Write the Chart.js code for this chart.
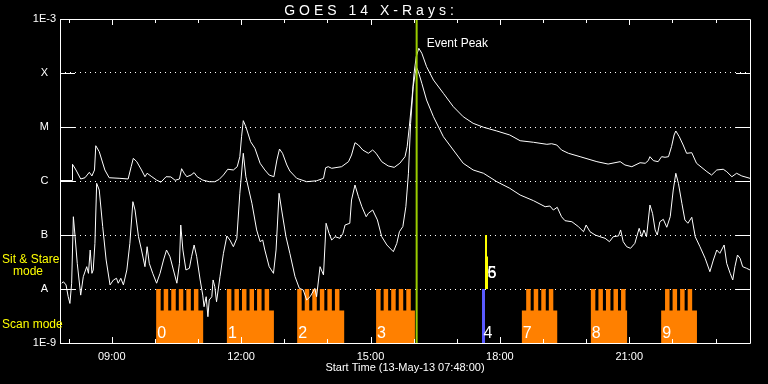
<!DOCTYPE html>
<html>
<head>
<meta charset="utf-8">
<script src="https://cdn.jsdelivr.net/npm/chart.js@4.4.1/dist/chart.umd.min.js"></script>
<style>
    html, body { margin: 0; padding: 0; background: #000; }
</style>
</head>
<body>
<canvas id="goes-chart" width="768" height="384"></canvas>
<script>
// Time axis: decimal hours UT on 13-May-13, window 07:48 -> 23:48
const xMin = 7.8;
const xMax = 23.8;
const hourTicks = [8, 9, 10, 11, 12, 13, 14, 15, 16, 17, 18, 19, 20, 21, 22, 23];

// Flux axis (W/m^2), decade ticks with GOES class letters
const yTickValues = [1e-9, 1e-8, 1e-7, 1e-6, 1e-5, 1e-4, 1e-3];
const yTickLabels = ['1E-9', 'A', 'B', 'C', 'M', 'X', '1E-3'];

// GOES 14 long channel (1-8 A)
const upperTime = [
    7.81, 8.08, 8.09, 8.17, 8.28, 8.38, 8.48, 8.54, 8.60, 8.63,
    8.71, 8.84, 8.94, 9.19, 9.38, 9.45, 9.50, 9.58, 9.69, 9.77,
    9.82, 9.93, 10.04, 10.14, 10.26, 10.37, 10.47, 10.57, 10.62, 10.68,
    10.74, 10.84, 10.91, 10.98, 11.11, 11.26, 11.39, 11.49, 11.59, 11.69,
    11.82, 11.91, 11.97, 12.01, 12.05, 12.11, 12.22, 12.32, 12.44, 12.55,
    12.65, 12.76, 12.83, 12.89, 12.96, 13.06, 13.13, 13.29, 13.52, 13.75,
    13.91, 13.96, 14.02, 14.10, 14.33, 14.49, 14.56, 14.64, 14.72, 14.82,
    14.95, 15.05, 15.13, 15.26, 15.41, 15.55, 15.68, 15.80, 15.85, 15.90,
    15.96, 16.01, 16.06, 16.12, 16.19, 16.30, 16.46, 16.69, 16.92, 17.15,
    17.38, 17.62, 17.93, 18.23, 18.47, 18.78, 19.09, 19.20, 19.32, 19.43,
    19.59, 19.86, 20.25, 20.51, 20.79, 20.90, 21.06, 21.25, 21.37, 21.44,
    21.48, 21.56, 21.67, 21.75, 21.83, 21.91, 21.98, 22.04, 22.08, 22.16,
    22.25, 22.33, 22.45, 22.56, 22.80, 22.91, 23.03, 23.18, 23.26, 23.38,
    23.49, 23.61, 23.80
];
const upperFlux = [
    1.02e-6, 1.02e-6, 2.04e-6, 1.6e-6, 1.09e-6, 1.15e-6, 1.45e-6, 1.24e-6, 1.6e-6, 4.5e-6,
    3.49e-6, 1.6e-6, 1.15e-6, 1.12e-6, 1.09e-6, 1.84e-6, 2.63e-6, 2.28e-6, 1.6e-6, 1.2e-6,
    1.39e-6, 1.2e-6, 1.04e-6, 0.95e-6, 1.2e-6, 1.19e-6, 1.03e-6, 1.09e-6, 1.69e-6, 1.39e-6,
    1.2e-6, 1.29e-6, 1.43e-6, 1.2e-6, 1.04e-6, 0.97e-6, 0.97e-6, 1.07e-6, 1.29e-6, 1.65e-6,
    1.6e-6, 1.84e-6, 2.82e-6, 6.6e-6, 1.31e-5, 1.01e-5, 5.34e-6, 4.03e-6, 2.13e-6, 1.6e-6,
    1.29e-6, 1.2e-6, 2.45e-6, 3.91e-6, 3.26e-6, 1.98e-6, 1.53e-6, 1.12e-6, 0.97e-6, 1.01e-6,
    1.12e-6, 1.76e-6, 1.84e-6, 1.72e-6, 1.84e-6, 2.28e-6, 3.03e-6, 5.12e-6, 4.64e-6, 3.75e-6,
    3.26e-6, 3.75e-6, 3.26e-6, 2.28e-6, 1.9e-6, 1.79e-6, 2.13e-6, 2.82e-6, 4.32e-6, 1.01e-5,
    3.16e-5, 0.99e-4, 2.0e-4, 2.87e-4, 2.32e-4, 1.31e-4, 7.41e-5, 4.21e-5, 2.38e-5, 1.55e-5,
    1.17e-5, 0.99e-5, 8.43e-6, 7.11e-6, 5.57e-6, 5.21e-6, 4.78e-6, 4.9e-6, 4.64e-6, 3.75e-6,
    3.26e-6, 2.82e-6, 2.28e-6, 2.06e-6, 2.28e-6, 1.98e-6, 1.84e-6, 2.18e-6, 2.13e-6, 2.38e-6,
    2.82e-6, 2.38e-6, 2.28e-6, 2.82e-6, 2.75e-6, 2.82e-6, 4.32e-6, 7.11e-6, 8.43e-6, 6.61e-6,
    4.64e-6, 3.26e-6, 3.34e-6, 2.13e-6, 1.49e-6, 1.29e-6, 1.6e-6, 1.65e-6, 1.49e-6, 1.2e-6,
    1.39e-6, 1.24e-6, 1.12e-6
];

// GOES 14 short channel (0.5-4 A)
const lowerTime = [
    7.84, 7.88, 7.94, 7.99, 8.03, 8.07, 8.11, 8.15, 8.20, 8.28,
    8.34, 8.42, 8.46, 8.50, 8.54, 8.57, 8.61, 8.65, 8.71, 8.79,
    8.87, 8.96, 9.04, 9.11, 9.15, 9.21, 9.27, 9.35, 9.42, 9.49,
    9.54, 9.62, 9.69, 9.77, 9.82, 9.87, 9.95, 10.04, 10.12, 10.20,
    10.27, 10.35, 10.43, 10.51, 10.57, 10.60, 10.65, 10.72, 10.80, 10.85,
    10.91, 10.97, 11.05, 11.11, 11.14, 11.19, 11.23, 11.26, 11.32, 11.35,
    11.39, 11.43, 11.51, 11.59, 11.67, 11.74, 11.82, 11.90, 11.97, 12.05,
    12.11, 12.25, 12.36, 12.44, 12.50, 12.55, 12.65, 12.75, 12.81, 12.88,
    12.94, 13.04, 13.13, 13.25, 13.35, 13.44, 13.52, 13.60, 13.71, 13.75,
    13.83, 13.91, 13.97, 14.04, 14.10, 14.18, 14.29, 14.36, 14.41, 14.52,
    14.56, 14.64, 14.72, 14.80, 14.90, 14.95, 15.05, 15.16, 15.26, 15.38,
    15.53, 15.61, 15.67, 15.75, 15.82, 15.88, 15.93, 15.99, 16.06, 16.11,
    16.19, 16.30, 16.46, 16.69, 16.92, 17.15, 17.38, 17.62, 17.93, 18.23,
    18.47, 18.78, 19.05, 19.16, 19.24, 19.33, 19.43, 19.51, 19.67, 19.82,
    19.94, 20.00, 20.09, 20.21, 20.32, 20.44, 20.54, 20.63, 20.75, 20.80,
    20.86, 20.94, 21.03, 21.13, 21.23, 21.29, 21.34, 21.40, 21.48, 21.54,
    21.60, 21.65, 21.71, 21.79, 21.87, 21.95, 22.02, 22.08, 22.14, 22.22,
    22.29, 22.36, 22.45, 22.53, 22.64, 22.76, 22.87, 22.95, 23.03, 23.10,
    23.20, 23.26, 23.34, 23.40, 23.45, 23.51, 23.57, 23.63, 23.72, 23.80
];
const lowerFlux = [
    1.28e-8, 1.36e-8, 1.19e-8, 7.2e-9, 5.4e-9, 1.28e-8, 2.18e-7, 9.3e-8, 2.99e-8, 7.7e-9,
    1.69e-8, 2.59e-8, 1.95e-8, 5.27e-8, 1.95e-8, 2.25e-8, 7.0e-8, 9.06e-7, 6.81e-7, 1.43e-7,
    3.44e-8, 1.19e-8, 1.47e-8, 1.58e-8, 1.28e-8, 1.58e-8, 1.19e-8, 2.25e-8, 7.0e-8, 4.14e-7,
    2.9e-7, 9.3e-8, 5.27e-8, 2.59e-8, 6.07e-8, 2.99e-8, 1.95e-8, 1.28e-8, 1.95e-8, 3.44e-8,
    5.27e-8, 3.96e-8, 2.25e-8, 1.28e-8, 2.99e-8, 1.53e-7, 5.27e-8, 2.25e-8, 2.42e-8, 3.96e-8,
    6.53e-8, 3.96e-8, 1.47e-8, 7.7e-9, 4.7e-9, 7.2e-9, 3.07e-9, 6.25e-9, 7.2e-9, 1.47e-8,
    1.1e-8, 5.8e-9, 1.69e-8, 4.58e-8, 9.58e-8, 8.07e-8, 6.07e-8, 8.69e-8, 5.92e-7, 3.26e-6,
    1.2e-6, 3.86e-7, 1.24e-7, 7.52e-8, 8.07e-8, 5.27e-8, 2.59e-8, 1.95e-8, 5.27e-8, 5.92e-7,
    2.9e-7, 9.3e-8, 4.58e-8, 1.69e-8, 1.03e-8, 9.6e-9, 6.25e-9, 7.2e-9, 1.03e-8, 7.2e-9,
    2.59e-8, 1.82e-8, 1.65e-7, 1.07e-7, 8.07e-8, 9.3e-8, 8.69e-8, 1.07e-7, 1.53e-7, 1.65e-7,
    4.45e-7, 8.43e-7, 5.12e-7, 3.34e-7, 2.18e-7, 2.52e-7, 2.9e-7, 1.9e-7, 9.3e-8, 6.53e-8,
    4.91e-8, 7.0e-8, 1.15e-7, 1.43e-7, 3.34e-7, 1.39e-6, 1.17e-5, 5.57e-5, 1.31e-4, 1.06e-4,
    6.44e-5, 3.16e-5, 1.55e-5, 6.61e-6, 3.75e-6, 2.13e-6, 1.6e-6, 1.39e-6, 9.7e-7, 7.33e-7,
    5.5e-7, 4.32e-7, 3.34e-7, 3.44e-7, 2.9e-7, 3.26e-7, 2.18e-7, 1.84e-7, 1.76e-7, 1.43e-7,
    1.15e-7, 1.53e-7, 1.15e-7, 1.0e-7, 9.3e-8, 8.69e-8, 7.52e-8, 9.3e-8, 9.6e-8, 1.24e-7,
    7.52e-8, 6.07e-8, 5.67e-8, 7.0e-8, 1.33e-7, 9.3e-8, 1.24e-7, 9.3e-8, 3.59e-7, 2.52e-7,
    1.24e-7, 1.0e-7, 1.76e-7, 1.95e-7, 1.39e-7, 2.18e-7, 6.81e-7, 1.39e-6, 9.06e-7, 3.86e-7,
    1.9e-7, 1.65e-7, 2.13e-7, 9.3e-8, 6.07e-8, 3.7e-8, 2.09e-8, 3.44e-8, 5.27e-8, 4.58e-8,
    6.53e-8, 2.99e-8, 1.95e-8, 1.47e-8, 2.59e-8, 4.26e-8, 3.7e-8, 2.59e-8, 2.42e-8, 2.25e-8
];

// Event peak time
const eventPeakTime = 16.07;

// Scan mode blocks (hours UT): block span, first raster start and raster count
const scanStart = [10.03, 11.67, 13.30, 15.13, 18.51, 20.11, 21.74];
const scanEnd = [11.12, 12.76, 14.39, 16.03, 19.33, 20.95, 22.57];
const toothStart = [10.03, 11.67, 13.30, 15.13, 18.61, 20.11, 21.83];
const toothCount = [6, 6, 6, 5, 4, 5, 4];
const scanLabels = ['0', '1', '2', '3', '7', '8', '9'];
const toothPeriod = 0.175;
const toothWidth = 0.104;
const scanBase = 4e-9;
const scanTop = 1e-8;

// Sit & stare pointings
const stareScanTime = 17.62;   // label 4
const stareTime = 17.69;       // labels 5 and 6
const stareTopFlux = 1e-7;
const stareMidFlux = 4e-8;

const titleText = 'GOES 14 X-Rays:';
const startLabel = 'Start Time (13-May-13 07:48:00)';

Chart.defaults.font.family = '"Liberation Sans", Arial, sans-serif';
Chart.defaults.font.size = 11;
Chart.defaults.color = '#ffffff';

function pairs(xs, ys) {
    return xs.map((t, i) => ({ x: t, y: ys[i] }));
}

function scanOutline() {
    const pts = [{ x: xMin, y: 1e-9 }];
    scanStart.forEach((s, i) => {
        pts.push({ x: s, y: 1e-9 }, { x: s, y: scanBase });
        for (let k = 0; k < toothCount[i]; k++) {
            const t0 = toothStart[i] + k * toothPeriod;
            pts.push({ x: t0, y: scanBase }, { x: t0, y: scanTop },
                     { x: t0 + toothWidth, y: scanTop }, { x: t0 + toothWidth, y: scanBase });
        }
        pts.push({ x: scanEnd[i], y: scanBase }, { x: scanEnd[i], y: 1e-9 });
    });
    pts.push({ x: xMax, y: 1e-9 });
    return pts;
}

function vline(t, lo, hi) {
    return [{ x: t, y: lo }, { x: t, y: hi }];
}

// frame with hour ticks top/bottom and class ticks left/right
const frameTicks = {
    id: 'frameTicks',
    afterDatasetsDraw(chart) {
        const { ctx, chartArea: a, scales: { x, y } } = chart;
        ctx.save();
        ctx.strokeStyle = '#ffffff';
        ctx.lineWidth = 1;
        ctx.beginPath();
        ctx.rect(a.left + 0.5, a.top + 0.5, a.right - a.left, a.bottom - a.top);
        x.ticks.forEach(t => {
            const px = Math.round(x.getPixelForValue(t.value)) + 0.5;
            const len = t.value % 3 === 0 ? 6 : 4;
            ctx.moveTo(px, a.top);
            ctx.lineTo(px, a.top + len);
            ctx.moveTo(px, a.bottom);
            ctx.lineTo(px, a.bottom - len);
        });
        y.ticks.forEach(t => {
            if (t.value <= y.min || t.value >= y.max) return;
            const py = Math.round(y.getPixelForValue(t.value)) + 0.5;
            ctx.moveTo(a.left, py);
            ctx.lineTo(a.left + 15, py);
            ctx.moveTo(a.right - 14, py);
            ctx.lineTo(a.right, py);
        });
        ctx.stroke();
        ctx.restore();
    }
};

// text annotations
const notes = {
    id: 'notes',
    afterDatasetsDraw(chart) {
        const { ctx, chartArea: a, scales: { x, y } } = chart;
        ctx.save();
        ctx.fillStyle = '#ffffff';
        ctx.textBaseline = 'alphabetic';

        ctx.font = '14px "Liberation Sans"';
        ctx.letterSpacing = '4px';
        ctx.textAlign = 'center';
        ctx.fillText(titleText, 371, 15);
        ctx.letterSpacing = '0px';

        ctx.textAlign = 'left';
        ctx.font = '12px "Liberation Sans"';
        ctx.fillText('Event Peak', x.getPixelForValue(eventPeakTime) + 10, a.top + 28);

        ctx.font = '16px "Liberation Sans"';
        scanStart.forEach((s, i) => {
            ctx.fillText(scanLabels[i], x.getPixelForValue(s) + 1, a.bottom - 5);
        });
        ctx.fillText('4', x.getPixelForValue(stareScanTime), a.bottom - 5);
        const sy = y.getPixelForValue(scanTop) - 11;
        ctx.fillText('6', x.getPixelForValue(stareTime) + 1, sy);
        ctx.fillText('5', x.getPixelForValue(stareTime) + 1, sy);

        ctx.fillStyle = '#ffff00';
        ctx.font = '12px "Liberation Sans"';
        ctx.fillText('Sit & Stare', 2, 263);
        ctx.fillText('mode', 13, 275);
        ctx.fillText('Scan mode', 2, 328);
        ctx.restore();
    }
};

new Chart(document.getElementById('goes-chart'), {
    type: 'line',
    data: {
        datasets: [
            {
                label: 'Event Peak',
                data: vline(eventPeakTime, 1e-9, 1e-3),
                borderColor: '#99cc00',
                borderWidth: 2
            },
            {
                label: 'Sit & Stare',
                data: vline(stareTime - 0.012, scanTop, stareTopFlux),
                borderColor: '#ffff00',
                borderWidth: 2
            },
            {
                label: 'Sit & Stare (2)',
                data: vline(stareTime, scanTop, stareMidFlux),
                borderColor: '#ffff00',
                borderWidth: 3
            },
            {
                label: 'Sit & Stare scan',
                data: vline(stareScanTime, 1e-9, scanTop),
                borderColor: '#5a5aff',
                borderWidth: 3
            },
            {
                label: '1-8 A',
                data: pairs(upperTime, upperFlux),
                borderColor: '#ffffff',
                borderWidth: 1
            },
            {
                label: '0.5-4 A',
                data: pairs(lowerTime, lowerFlux),
                borderColor: '#ffffff',
                borderWidth: 1
            },
            {
                label: 'Scan mode',
                data: scanOutline(),
                borderColor: 'rgba(0,0,0,0)',
                borderWidth: 0,
                backgroundColor: '#ff8000',
                fill: 'start'
            }
        ]
    },
    options: {
        responsive: false,
        animation: false,
        layout: { padding: { top: 19, right: 18, left: 0, bottom: 0 } },
        elements: { point: { radius: 0 }, line: { tension: 0 } },
        plugins: {
            legend: { display: false },
            tooltip: { enabled: false }
        },
        scales: {
            x: {
                type: 'linear',
                min: xMin,
                max: xMax,
                afterBuildTicks: s => { s.ticks = hourTicks.map(v => ({ value: v })); },
                afterFit: s => { s.height = 41; },
                grid: { display: false, drawTicks: false },
                border: { display: false },
                ticks: {
                    color: '#ffffff',
                    font: { size: 11 },
                    padding: 7,
                    autoSkip: false,
                    maxRotation: 0,
                    minRotation: 0,
                    callback: v => v % 3 === 0 ? String(v).padStart(2, '0') + ':00' : ''
                },
                title: {
                    display: true,
                    text: startLabel,
                    color: '#ffffff',
                    font: { size: 11 },
                    padding: { top: 0, bottom: 9 }
                }
            },
            y: {
                type: 'logarithmic',
                min: 1e-9,
                max: 1e-3,
                afterBuildTicks: s => { s.ticks = yTickValues.map(v => ({ value: v })); },
                afterFit: s => { s.width = 60; },
                grid: { color: '#ffffff', lineWidth: 1, drawTicks: false },
                border: { display: false, dash: [1, 4] },
                ticks: {
                    color: '#ffffff',
                    font: { size: 11 },
                    padding: 4,
                    crossAlign: 'center',
                    autoSkip: false,
                    callback: (v, i) => yTickLabels[i]
                }
            }
        }
    },
    plugins: [frameTicks, notes]
});
</script>
</body>
</html>
